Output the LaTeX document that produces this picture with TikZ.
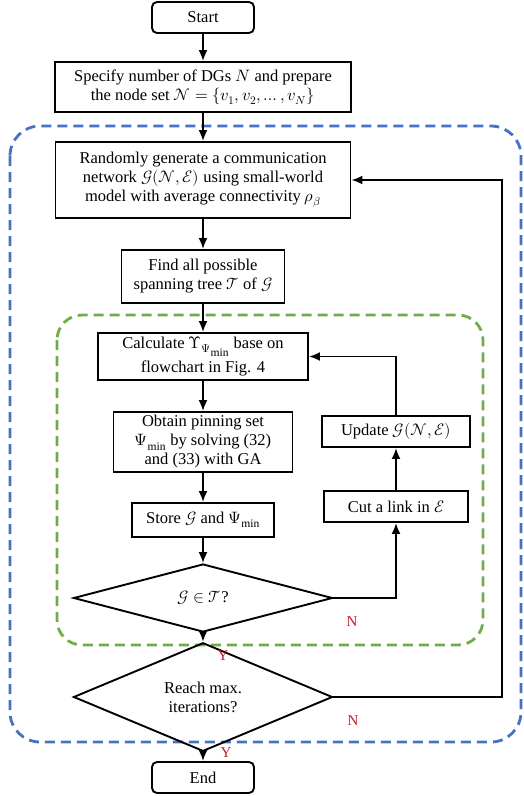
\documentclass[tikz,border=0pt]{standalone}
\usepackage{amsmath}
\usepackage{fontspec}
\usepackage{unicode-math}
\setmainfont{Liberation Serif}
\setmathfont{Latin Modern Math}
\usetikzlibrary{shapes.geometric,arrows.meta}
\definecolor{loopblue}{RGB}{68,114,196}
\definecolor{loopgreen}{RGB}{112,173,71}
\definecolor{ynred}{RGB}{200,25,45}
\tikzset{
  blk/.style={draw,line width=1.9pt,align=center,inner sep=1pt},
  term/.style={blk,rounded corners=5pt,minimum width=102pt,minimum height=31pt},
  dec/.style={draw,diamond,line width=1.9pt,align=center,inner sep=0pt,minimum width=259pt,minimum height=68pt},
  flow/.style={line width=1.9pt,-{Latex[length=11pt,width=9pt]}},
  yn/.style={text=ynred,font=\fontsize{15}{16}\selectfont},
  loopbox/.style={dashed,line width=2.8pt,dash pattern=on 10pt off 6pt}
}
\begin{document}
\begin{tikzpicture}[x=1pt,y=-1pt,font=\fontsize{16.5}{19}\selectfont]
    \useasboundingbox (0,0) rectangle (523,796);
    % outer and inner loops
    \draw[loopbox,loopblue,rounded corners=30pt] (10,126) rectangle (521,742);
    \draw[loopbox,loopgreen,rounded corners=25pt] (57,315) rectangle (483,645);
    % boxes
    \node[term] (start) at (203,17.5) {Start};
    \node[blk,minimum width=296pt,minimum height=50pt] (spec) at (203,87)
        {Specify number of DGs $N$ and prepare\\the node set $\mathcal{N}=\{v_1,v_2,\ldots,v_N\}$};
    \node[blk,minimum width=295pt,minimum height=76pt] (rand) at (203,180)
        {Randomly generate a communication\\network $\mathcal{G}(\mathcal{N},\mathcal{E})$ using small-world\\model with average connectivity $\rho_\beta$};
    \node[blk,minimum width=163pt,minimum height=53pt] (find) at (203,276.5)
        {Find all possible\\spanning tree $\mathcal{T}$ of $\mathcal{G}$};
    \node[blk,minimum width=210pt,minimum height=47pt] (calc) at (203,356.5)
        {Calculate $\Upsilon_{\Psi_{\scriptstyle\min}}$ base on\\[3pt]flowchart in Fig. 4};
    \node[blk,minimum width=179pt,minimum height=60pt] (obt) at (203,442)
        {Obtain pinning set\\$\Psi_{\min}$ by solving (32)\\and (33) with GA};
    \node[blk,minimum width=142pt,minimum height=34pt] (store) at (203,520)
        {Store $\mathcal{G}$ and $\Psi_{\min}$};
    \node[blk,minimum width=148pt,minimum height=31pt] (upd) at (396,431.5)
        {Update $\mathcal{G}(\mathcal{N},\mathcal{E})$};
    \node[blk,minimum width=144pt,minimum height=31pt] (cut) at (396,506.5)
        {Cut a link in $\mathcal{E}$};
    \node[dec] (tree) at (203,598) {$\mathcal{G}\in\mathcal{T}$?};
    \node[dec] (maxit) at (203,697) {Reach max.\\iterations?};
    \node[term] (end) at (203,777.5) {End};
    \coordinate (back) at (502,180);
    % labels
    \node[yn] (ytree) at (223,656) {Y};
    \node[yn] (ntree) at (352,622) {N};
    \node[yn] (ymax) at (226,753) {Y};
    \node[yn] (nmax) at (353,721) {N};
    % connectors
    \draw[flow] (start) -- (spec);
    \draw[flow] (spec) -- (rand);
    \draw[flow] (rand) -- (find);
    \draw[flow] (find) -- (calc);
    \draw[flow] (calc) -- (obt);
    \draw[flow] (obt) -- (store);
    \draw[flow] (store) -- (tree);
    \draw[flow] (tree.east) -| (cut.south);
    \draw[flow] (cut) -- (upd);
    \draw[flow] (upd.north) |- (calc.east);
    \draw[flow] (tree) -- (maxit);
    \draw[flow] (maxit.east) -| (back) -- (rand.east);
    \draw[flow] (maxit) -- (end);
\end{tikzpicture}
\end{document}
